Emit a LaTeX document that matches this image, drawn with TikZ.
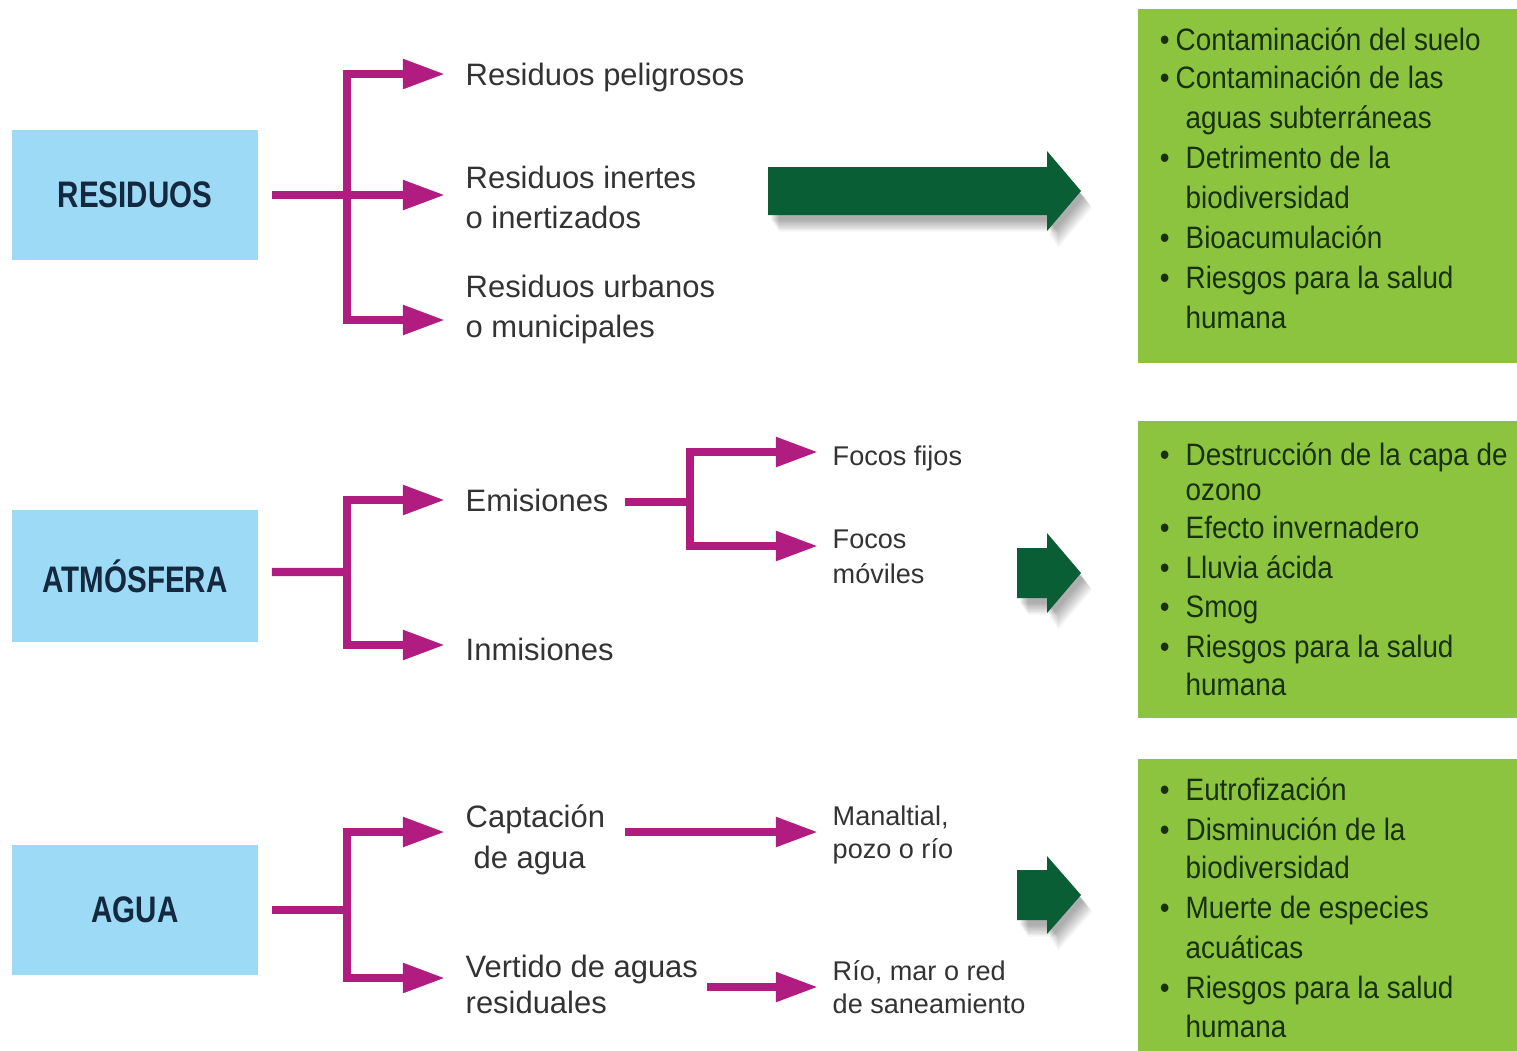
\documentclass[tikz,border=0pt]{standalone}
\usepackage{fontspec}
\setmainfont{Liberation Sans}
\newfontfamily\labelfont[FakeStretch=0.8]{Liberation Sans Bold}
\newfontfamily\greenfont[FakeStretch=0.9]{Liberation Sans}
\usetikzlibrary{arrows.meta,calc}
\definecolor{bluec}{HTML}{9DDAF5}
\definecolor{navyc}{HTML}{14293F}
\definecolor{greenc}{HTML}{8CC43F}
\definecolor{gtextc}{HTML}{18300C}
\definecolor{magc}{HTML}{B01C80}
\definecolor{darkg}{HTML}{0A5E36}
\definecolor{textc}{HTML}{333333}
\newcommand\gbul[1]{\llap{•\hspace{#1}}}
\newcommand\greenarrow[6]{%
  \foreach \k in {1,...,9}{%
    \fill[black,opacity=0.04,shift={(2+\k,4+1.4*\k)}]
      (#1,#4-#5) -- (#2,#4-#5) -- (#2,#4-#6) -- (#3,#4) -- (#2,#4+#6) -- (#2,#4+#5) -- (#1,#4+#5) -- cycle;}
  \fill[darkg] (#1,#4-#5) -- (#2,#4-#5) -- (#2,#4-#6) -- (#3,#4) -- (#2,#4+#6) -- (#2,#4+#5) -- (#1,#4+#5) -- cycle;}
\tikzset{
  bluebox/.style={fill=bluec, minimum width=2.46cm, minimum height=1.30cm, inner sep=0pt,
    text=navyc, font=\labelfont\fontsize{10.5pt}{12pt}\selectfont},
  greenbox/.style={fill=greenc, anchor=north west, minimum width=3.80cm, inner sep=0pt},
  txt/.style={anchor=base west, inner sep=0pt, text=textc, font=\fontsize{8.8pt}{10pt}\selectfont},
  stxt/.style={anchor=base west, inner sep=0pt, text=textc, font=\fontsize{7.7pt}{9pt}\selectfont},
  gtxt/.style={anchor=base west, inner sep=0pt, text=gtextc, font=\greenfont\fontsize{8.8pt}{10pt}\selectfont},
  mline/.style={draw=magc, line width=2.3pt},
  marrow/.style={mline, -{Triangle[length=4.2mm,width=2.8mm]}}
}
\begin{document}
\begin{tikzpicture}[x=0.01cm,y=-0.01cm]
\useasboundingbox (0,0) rectangle (1517,1050);
\fill[white] (0,0) rectangle (1517,1050);

% blue boxes
\node[bluebox] (res) at (135,195) {RESIDUOS};
\node[bluebox, minimum height=1.32cm] (atm) at (135,576) {ATMÓSFERA};
\node[bluebox] (agua) at (135,910) {AGUA};

% texts
\node[txt] (pel) at (465,85) {Residuos peligrosos};
\node[txt] (ine1) at (465,188) {Residuos inertes};
\node[txt] (ine2) at (465,228) {o inertizados};
\node[txt] (urb1) at (465,297) {Residuos urbanos};
\node[txt] (urb2) at (465,337) {o municipales};
\node[txt] (emi) at (465,511) {Emisiones};
\node[txt] (inm) at (465,660) {Inmisiones};
\node[txt] (cap1) at (465,827) {Captación};
\node[txt] (cap2) at (473,868) {de agua};
\node[txt] (ver1) at (465,977) {Vertido de aguas};
\node[txt] (ver2) at (465,1013) {residuales};
\node[stxt] (ff) at (832,465) {Focos fijos};
\node[stxt] (fm1) at (832,548) {Focos};
\node[stxt] (fm2) at (832,583) {móviles};
\node[stxt] (man1) at (832,825) {Manaltial,};
\node[stxt] (man2) at (832,858) {pozo o río};
\node[stxt] (rio1) at (832,980) {Río, mar o red};
\node[stxt] (rio2) at (832,1013) {de saneamiento};

% coordinates
\coordinate (jres) at (347,195);
\coordinate (tpel) at (445,74);
\coordinate (tine) at (445,195);
\coordinate (turb) at (445,320);
\coordinate (jatm) at (347,572);
\coordinate (temi) at (445,500);
\coordinate (tinm) at (445,645);
\coordinate (semi) at (625,502);
\coordinate (jemi) at (690,502);
\coordinate (tff) at (818,452);
\coordinate (tfm) at (818,546);
\coordinate (jagua) at (347,910);
\coordinate (tcap) at (445,832);
\coordinate (tver) at (445,978);
\coordinate (scap) at (625,832);
\coordinate (tman) at (818,832);
\coordinate (sver) at (707,987);
\coordinate (trio) at (818,987);

% residuos connectors
\draw[marrow] ([xshift=0.13cm]res.east) -- (tine);
\draw[marrow] (jres) |- (tpel);
\draw[marrow] (jres) |- (turb);
% atmosfera connectors
\draw[mline] ([xshift=0.13cm,yshift=0.04cm]atm.east) -- (jatm);
\draw[marrow] (jatm) |- (temi);
\draw[marrow] (jatm) |- (tinm);
\draw[mline] (semi) -- (jemi);
\draw[marrow] (jemi) |- (tff);
\draw[marrow] (jemi) |- (tfm);
% agua connectors
\draw[mline] ([xshift=0.13cm]agua.east) -- (jagua);
\draw[marrow] (jagua) |- (tcap);
\draw[marrow] (jagua) |- (tver);
\draw[marrow] (scap) -- (tman);
\draw[marrow] (sver) -- (trio);

% green arrows
\greenarrow{768}{1047}{1081}{191}{24}{40}
\greenarrow{1017}{1047}{1081}{573}{25}{40}
\greenarrow{1017}{1047}{1081}{895}{25}{39}

% green boxes
\node[greenbox, minimum height=3.54cm] (g1) at (1137,8) {};
\node[greenbox, minimum height=2.97cm] (g2) at (1137,420) {};
\node[greenbox, minimum height=2.92cm] (g3) at (1137,758) {};

\foreach \y/\x/\t [count=\i] in {
  50/1175/{\gbul{0.6mm}Contaminación del suelo},
  88/1175/{\gbul{0.6mm}Contaminación de las},
  128/1185/{aguas subterráneas},
  168/1185/{\gbul{1.6mm}Detrimento de la},
  208/1185/{biodiversidad},
  248/1185/{\gbul{1.6mm}Bioacumulación},
  288/1185/{\gbul{1.6mm}Riesgos para la salud},
  328/1185/{humana}}
  \node[gtxt] (ga\i) at (\x,\y) {\t};

\foreach \y/\x/\t [count=\i] in {
  465/1185/{\gbul{1.6mm}Destrucción de la capa de},
  500/1185/{ozono},
  538/1185/{\gbul{1.6mm}Efecto invernadero},
  578/1185/{\gbul{1.6mm}Lluvia ácida},
  617/1185/{\gbul{1.6mm}Smog},
  657/1185/{\gbul{1.6mm}Riesgos para la salud},
  695/1185/{humana}}
  \node[gtxt] (gb\i) at (\x,\y) {\t};

\foreach \y/\x/\t [count=\i] in {
  800/1185/{\gbul{1.6mm}Eutrofización},
  840/1185/{\gbul{1.6mm}Disminución de la},
  878/1185/{biodiversidad},
  918/1185/{\gbul{1.6mm}Muerte de especies},
  958/1185/{acuáticas},
  998/1185/{\gbul{1.6mm}Riesgos para la salud},
  1037/1185/{humana}}
  \node[gtxt] (gc\i) at (\x,\y) {\t};
\end{tikzpicture}
\end{document}
